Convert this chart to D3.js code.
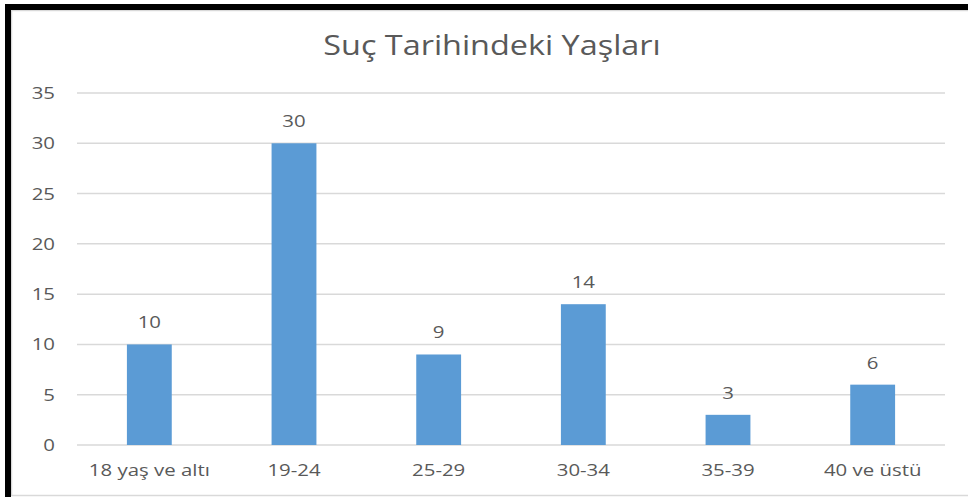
<!DOCTYPE html>
<html>
<head>
<meta charset="utf-8">
<script src="https://cdn.jsdelivr.net/npm/d3@7"></script>
<style>
  body { margin: 0; background: #fff; }
  text { font-family: "Open Sans", "Noto Sans", sans-serif; fill: #595959; }
</style>
</head>
<body>
<div id="chart"></div>
<script>
// chart data
var categories = ['18 yaş ve altı', '19-24', '25-29', '30-34', '35-39', '40 ve üstü'];
var values = [10, 30, 9, 14, 3, 6];
var yTicks = [0, 5, 10, 15, 20, 25, 30, 35];
var title = 'Suç Tarihindeki Yaşları';

var width = 968, height = 497;
var margins = { top: 93, right: 23, bottom: 51, left: 77 };
// the source font is wider than Open Sans, stretch text a bit
var stretch = 1.2;

var svg = d3.select('#chart').append('svg')
    .attr('width', width)
    .attr('height', height);

// frame (black edge from the screenshot + light chart border)
svg.append('rect').attr('x', 11.5).attr('y', 10.5).attr('width', 960).attr('height', 485)
    .attr('fill', 'none').attr('stroke', '#d9d9d9').attr('stroke-width', 1.5);
svg.append('rect').attr('x', 5).attr('y', 4).attr('width', 963).attr('height', 6).attr('fill', '#000');
svg.append('rect').attr('x', 5).attr('y', 4).attr('width', 6).attr('height', 493).attr('fill', '#000');

var chartWidth = width - margins.left - margins.right;
var chartHeight = height - margins.top - margins.bottom - 1;

var x = d3.scaleBand()
    .domain(categories)
    .range([0, chartWidth])
    .paddingInner(0.69)
    .paddingOuter(0.345);

var y = d3.scaleLinear()
    .domain([0, 35])
    .range([chartHeight, 0]);

var chart = svg.append('g')
    .attr('transform', 'translate(' + margins.left + ',' + margins.top + ')');

// stretch a text horizontally around its anchor x
var widen = function(sel) {
    sel.attr('transform', function() {
        var ax = +d3.select(this).attr('x') || 0;
        return 'translate(' + ax + ',0) scale(' + stretch + ',1) translate(' + (-ax) + ',0)';
    });
};

// gridlines
chart.append('g')
    .selectAll('line')
    .data(yTicks)
    .enter().append('line')
    .attr('x1', 0)
    .attr('x2', chartWidth)
    .attr('y1', function(d) { return y(d); })
    .attr('y2', function(d) { return y(d); })
    .attr('stroke', '#d9d9d9')
    .attr('stroke-width', 1.5);

// y axis labels
var yAxis = d3.axisLeft(y).tickValues(yTicks).tickSize(0).tickPadding(22);
chart.append('g').call(yAxis)
    .call(function(g) { g.select('.domain').remove(); })
    .selectAll('text')
    .attr('font-size', 17)
    .attr('fill', '#595959')
    .style('font-family', '"Open Sans", sans-serif')
    .call(widen);

// bars
chart.selectAll('rect.bar')
    .data(values)
    .enter().append('rect')
    .attr('class', 'bar')
    .attr('x', function(d, i) { return x(categories[i]); })
    .attr('y', function(d) { return y(d); })
    .attr('width', x.bandwidth())
    .attr('height', function(d) { return y(0) - y(d); })
    .attr('fill', '#5b9bd5');

// value labels
chart.selectAll('text.value')
    .data(values)
    .enter().append('text')
    .attr('class', 'value')
    .attr('x', function(d, i) { return x(categories[i]) + x.bandwidth() / 2; })
    .attr('y', function(d) { return y(d) - 16; })
    .attr('text-anchor', 'middle')
    .attr('font-size', 17)
    .text(function(d) { return d; })
    .call(widen);

// x axis labels
var xAxis = d3.axisBottom(x).tickSize(0).tickPadding(19);
chart.append('g')
    .attr('transform', 'translate(0,' + chartHeight + ')')
    .call(xAxis)
    .call(function(g) { g.select('.domain').remove(); })
    .selectAll('text')
    .attr('font-size', 17)
    .attr('fill', '#595959')
    .style('font-family', '"Open Sans", sans-serif')
    .call(widen);

// title
svg.append('text')
    .attr('x', 492)
    .attr('y', 55)
    .attr('text-anchor', 'middle')
    .attr('font-size', 27)
    .text(title)
    .call(widen);
</script>
</body>
</html>
